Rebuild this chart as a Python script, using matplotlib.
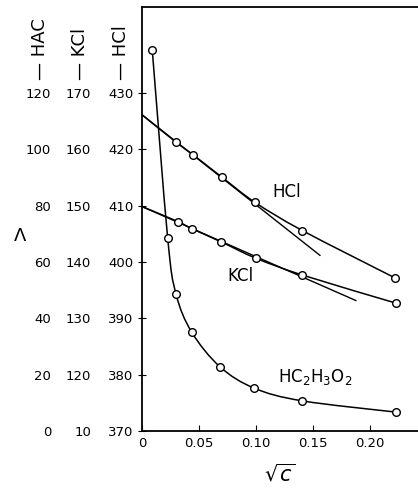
import matplotlib
matplotlib.use("Agg")
import matplotlib.pyplot as plt
import numpy as np
from matplotlib.path import Path
from matplotlib.patches import PathPatch

# ---------------------------------------------------------------------------
# data (sqrt(c) vs equivalent conductance)
hcl_x = [0.0298, 0.0445, 0.0699, 0.0991, 0.1406, 0.2217]
hcl_y = [421.3, 419.1, 415.1, 410.6, 405.6, 397.2]
hcl_lim = 426.16          # Lambda_0 at sqrt(c) = 0
hcl_slope = -160.0        # limiting slope (tangent)
hcl_tan_end = 0.156

kcl_x = [0.0313, 0.0441, 0.0693, 0.0997, 0.1406, 0.2228]
kcl_y = [147.2, 145.9, 143.6, 140.7, 137.7, 132.7]
kcl_lim = 149.86
kcl_slope = -89.0
kcl_tan_end = 0.1875

hac_x = [0.0090, 0.0225, 0.0298, 0.0436, 0.0684, 0.0985, 0.1406, 0.2228]
hac_y = [135.3, 68.6, 48.7, 35.1, 22.8, 15.2, 10.7, 6.7]

x_ticks = [0, 0.05, 0.10, 0.15, 0.20]
x_labels = ["0", "0.05", "0.10", "0.15", "0.20"]
hcl_ticks = [370, 380, 390, 400, 410, 420, 430]
kcl_ticks = [110, 120, 130, 140, 150, 160, 170]
kcl_labels = ["10", "120", "130", "140", "150", "160", "170"]
hac_ticks = [0, 20, 40, 60, 80, 100, 120]


# the three scales share one axis: HCl is the base scale
def kcl_to_hcl(v):
    return np.asarray(v) + 260.0


def hcl_to_kcl(v):
    return np.asarray(v) - 260.0


def hac_to_hcl(v):
    return 370.0 + np.asarray(v) / 2.0


def hcl_to_hac(v):
    return (np.asarray(v) - 370.0) * 2.0


def smooth(ax, xs, ys, lw=1.1):
    """Catmull-Rom curve through the points, drawn as a bezier path."""
    p = np.column_stack([xs, ys])
    verts = [p[0]]
    codes = [Path.MOVETO]
    n = len(p)
    for i in range(n - 1):
        p0 = p[i - 1] if i > 0 else p[i]
        p3 = p[i + 2] if i + 2 < n else p[i + 1]
        c1 = p[i] + (p[i + 1] - p0) / 6.0
        c2 = p[i + 1] - (p3 - p[i]) / 6.0
        verts += [c1, c2, p[i + 1]]
        codes += [Path.CURVE4] * 3
    ax.add_patch(PathPatch(Path(verts, codes), fill=False, lw=lw,
                           edgecolor="black", zorder=2))


fig = plt.figure(figsize=(4.18, 4.91), dpi=100)
ax = fig.add_axes([142 / 418, 1 - 431 / 491, 276 / 418, 424 / 491])

# ---- curves ---------------------------------------------------------------
smooth(ax, [0] + hcl_x, [hcl_lim] + hcl_y)
smooth(ax, [0] + kcl_x, kcl_to_hcl([kcl_lim] + kcl_y))
smooth(ax, hac_x, hac_to_hcl(hac_y))

# limiting-slope tangents
ax.plot([0, hcl_tan_end], [hcl_lim, hcl_lim + hcl_slope * hcl_tan_end],
        color="black", lw=1.0)
ax.plot([0, kcl_tan_end],
        kcl_to_hcl([kcl_lim, kcl_lim + kcl_slope * kcl_tan_end]),
        color="black", lw=1.0)

mk = dict(marker="o", ms=5.5, mfc="white", mec="black", mew=1.0,
          ls="none", zorder=3, clip_on=False)
ax.plot(hcl_x, hcl_y, **mk)
ax.plot(kcl_x, kcl_to_hcl(kcl_y), **mk)
ax.plot(hac_x, hac_to_hcl(hac_y), **mk)

# ---- labels on curves -----------------------------------------------------
ax.text(0.1266, 412.5, "HCl", fontsize=12, ha="center", va="center")
ax.text(0.0865, 397.5, "KCl", fontsize=12, ha="center", va="center")
ax.text(0.1520, 379.6, r"HC$_2$H$_3$O$_2$", fontsize=12,
        ha="center", va="center")

# ---- axes -----------------------------------------------------------------
ax.set_xlim(0, 0.242)
ax.set_ylim(370, 445.3)
ax.spines["right"].set_visible(False)
for s in ("left", "top", "bottom"):
    ax.spines[s].set_linewidth(1.3)

ax.set_xticks(x_ticks)
ax.set_xticklabels(x_labels)
ax.tick_params(axis="x", direction="in", length=4, labelsize=9.5, pad=4)
ax.set_yticks(hcl_ticks)
ax.tick_params(axis="y", direction="inout", length=6, labelsize=9.5, pad=3)
ax.set_xlabel(r"$\sqrt{c}$", fontsize=15, labelpad=10)

sec_k = ax.secondary_yaxis(-0.174, functions=(hcl_to_kcl, kcl_to_hcl))
sec_k.set_yticks(kcl_ticks)
sec_k.set_yticklabels(kcl_labels)
sec_h = ax.secondary_yaxis(-0.319, functions=(hcl_to_hac, hac_to_hcl))
sec_h.set_yticks(hac_ticks)
for sec in (sec_k, sec_h):
    for sp in sec.spines.values():
        sp.set_visible(False)
    sec.tick_params(axis="y", length=0, labelsize=9.5, pad=2)

# column headings and Lambda
fig.text(40 / 418, 1 - 80 / 491, "— HAC", rotation=90, fontsize=13,
         ha="center", va="bottom")
fig.text(80 / 418, 1 - 80 / 491, "— KCl", rotation=90, fontsize=13,
         ha="center", va="bottom")
fig.text(121 / 418, 1 - 80 / 491, "— HCl", rotation=90, fontsize=13,
         ha="center", va="bottom")
fig.text(20 / 418, 1 - 236 / 491, r"$\Lambda$", fontsize=13,
         ha="center", va="center")

fig.savefig("out.png", dpi=100)
